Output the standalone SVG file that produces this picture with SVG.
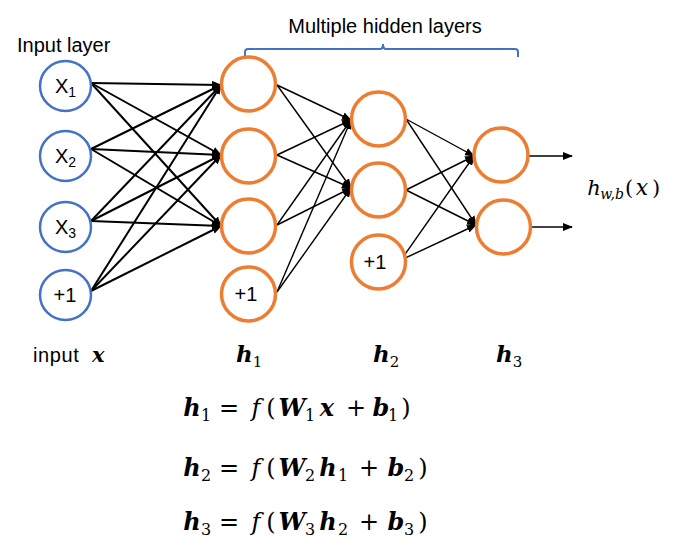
<svg xmlns="http://www.w3.org/2000/svg" width="677" height="551" viewBox="0 0 677 551">
<style>
.in{fill:#fff;stroke:#4472C4;stroke-width:2.5}
.hd{fill:#fff;stroke:#ED7D31;stroke-width:3.5}
.lbl{font-family:"Liberation Sans",Arial,sans-serif;font-size:20px;fill:#000}
.nl{font-family:"Liberation Sans",Arial,sans-serif;font-size:20px;fill:#000;text-anchor:middle}
.m{font-family:"DejaVu Serif","Liberation Serif",serif;fill:#000}
.mc{font-family:"DejaVu Serif","Liberation Serif",serif;fill:#000;text-anchor:middle}
.bi{font-weight:bold;font-style:italic}
.it{font-style:italic}
.s{font-size:16px}
.c1{stroke:#000;stroke-width:2;fill:none}
.c2{stroke:#000;stroke-width:1.4;fill:none}
</style>
<defs>
<marker id="ah" markerUnits="userSpaceOnUse" markerWidth="10" markerHeight="8" refX="9" refY="4" orient="auto">
<path d="M0,0 L10,4 L0,8 Z" fill="#000"/>
</marker>
</defs>
<rect width="677" height="551" fill="#fff"/>
<g id="connectors">
<g class="c1" marker-end="url(#ah)">
<line x1="91" y1="83" x2="221" y2="85"/>
<line x1="91" y1="83" x2="221" y2="155"/>
<line x1="91" y1="83" x2="221" y2="226"/>
<line x1="91" y1="149" x2="221" y2="85"/>
<line x1="91" y1="149" x2="221" y2="155"/>
<line x1="91" y1="149" x2="221" y2="226"/>
<line x1="91" y1="221" x2="221" y2="85"/>
<line x1="91" y1="221" x2="221" y2="155"/>
<line x1="91" y1="221" x2="221" y2="226"/>
<line x1="91" y1="291" x2="221" y2="85"/>
<line x1="91" y1="291" x2="221" y2="155"/>
<line x1="91" y1="291" x2="221" y2="226"/>
</g>
<g class="c2" marker-end="url(#ah)">
<line x1="277" y1="85" x2="351" y2="120"/>
<line x1="277" y1="85" x2="351" y2="188"/>
<line x1="277" y1="155" x2="351" y2="120"/>
<line x1="277" y1="155" x2="351" y2="188"/>
<line x1="277" y1="225" x2="351" y2="120"/>
<line x1="277" y1="225" x2="351" y2="188"/>
<line x1="277" y1="292" x2="351" y2="120"/>
<line x1="277" y1="292" x2="351" y2="188"/>
<line x1="406" y1="119" x2="474" y2="156"/>
<line x1="406" y1="119" x2="476" y2="225"/>
<line x1="406" y1="190" x2="474" y2="156"/>
<line x1="406" y1="190" x2="476" y2="225"/>
<line x1="401" y1="260" x2="474" y2="156"/>
<line x1="401" y1="260" x2="476" y2="225"/>
<line x1="529" y1="156" x2="572" y2="156"/>
<line x1="532" y1="227" x2="572" y2="227"/>
</g>
</g>
<g id="bracket">
<path d="M245,57 V52 Q245,49 248,49 H380 Q383,49 383,44 Q383,49 386,49 H515 Q518,49 518,52 V57" fill="none" stroke="#4472C4" stroke-width="2"/>
<text class="nl" x="385" y="33" font-size="20.5">Multiple hidden layers</text>
</g>
<text id="input-layer-label" class="lbl" x="17" y="52">Input layer</text>
<g id="x1"><ellipse class="in" cx="65.5" cy="86" rx="25.5" ry="25"/><text class="lbl" x="55" y="93">X<tspan font-size="14" dy="4">1</tspan></text></g>
<g id="x2"><ellipse class="in" cx="65.5" cy="156" rx="25.5" ry="25"/><text class="lbl" x="55" y="163">X<tspan font-size="14" dy="4">2</tspan></text></g>
<g id="x3"><ellipse class="in" cx="65.5" cy="227" rx="25.5" ry="25"/><text class="lbl" x="55" y="234">X<tspan font-size="14" dy="4">3</tspan></text></g>
<g id="xb"><ellipse class="in" cx="65.5" cy="295" rx="25.5" ry="25"/><text class="nl" x="65" y="302">+1</text></g>
<g id="h1a"><circle class="hd" cx="248.5" cy="84" r="27"/></g>
<g id="h1b"><circle class="hd" cx="248.5" cy="156" r="27"/></g>
<g id="h1c"><circle class="hd" cx="248.5" cy="226" r="27"/></g>
<g id="h1bias"><circle class="hd" cx="248.5" cy="294" r="27"/><text class="nl" x="246" y="301">+1</text></g>
<g id="h2a"><circle class="hd" cx="378.5" cy="119" r="27"/></g>
<g id="h2b"><circle class="hd" cx="378.5" cy="190" r="27"/></g>
<g id="h2bias"><circle class="hd" cx="378.5" cy="262" r="27"/><text class="nl" x="375" y="269">+1</text></g>
<g id="h3a"><circle class="hd" cx="501" cy="155" r="27"/></g>
<g id="h3b"><circle class="hd" cx="503.5" cy="227" r="27"/></g>
<text id="output-label" class="mc it" font-size="21" y="195"><tspan x="594">h</tspan><tspan x="612" font-size="14" dy="4">w,b</tspan><tspan x="629" dy="-4" font-style="normal">(</tspan><tspan x="642" font-size="22">x</tspan><tspan x="656" font-style="normal">)</tspan></text>
<g id="layer-labels">
<text class="lbl" x="33" y="362" font-size="23" letter-spacing="0.6">input<tspan class="m bi" font-size="21" x="92" letter-spacing="0">x</tspan></text>
<text class="m" font-size="23" x="236" y="362"><tspan class="bi">h</tspan><tspan font-size="15" dy="5">1</tspan></text>
<text class="m" font-size="23" x="373" y="362"><tspan class="bi">h</tspan><tspan font-size="15" dy="5">2</tspan></text>
<text class="m" font-size="23" x="496" y="362"><tspan class="bi">h</tspan><tspan font-size="15" dy="5">3</tspan></text>
</g>
<g id="equations" class="mc" font-size="24">
<text y="416"><tspan class="bi" x="192">h</tspan><tspan class="s" x="206" dy="5">1</tspan><tspan x="229" dy="-5">=</tspan><tspan class="it" x="256">f</tspan><tspan x="271">(</tspan><tspan class="bi" x="292">W</tspan><tspan class="s" x="310" dy="5">1</tspan><tspan class="bi" x="327" dy="-5">x</tspan><tspan x="356">+</tspan><tspan class="bi" x="381">b</tspan><tspan class="s" x="393" dy="5">1</tspan><tspan x="406" dy="-5">)</tspan></text>
<text y="476"><tspan class="bi" x="192">h</tspan><tspan class="s" x="206" dy="5">2</tspan><tspan x="229" dy="-5">=</tspan><tspan class="it" x="256">f</tspan><tspan x="271">(</tspan><tspan class="bi" x="292">W</tspan><tspan class="s" x="310" dy="5">2</tspan><tspan class="bi" x="328" dy="-5">h</tspan><tspan class="s" x="343" dy="5">1</tspan><tspan x="369" dy="-5">+</tspan><tspan class="bi" x="396">b</tspan><tspan class="s" x="409" dy="5">2</tspan><tspan x="423" dy="-5">)</tspan></text>
<text y="530"><tspan class="bi" x="192">h</tspan><tspan class="s" x="206" dy="5">3</tspan><tspan x="229" dy="-5">=</tspan><tspan class="it" x="256">f</tspan><tspan x="271">(</tspan><tspan class="bi" x="292">W</tspan><tspan class="s" x="310" dy="5">3</tspan><tspan class="bi" x="328" dy="-5">h</tspan><tspan class="s" x="343" dy="5">2</tspan><tspan x="369" dy="-5">+</tspan><tspan class="bi" x="396">b</tspan><tspan class="s" x="409" dy="5">3</tspan><tspan x="423" dy="-5">)</tspan></text>
</g>
</svg>
